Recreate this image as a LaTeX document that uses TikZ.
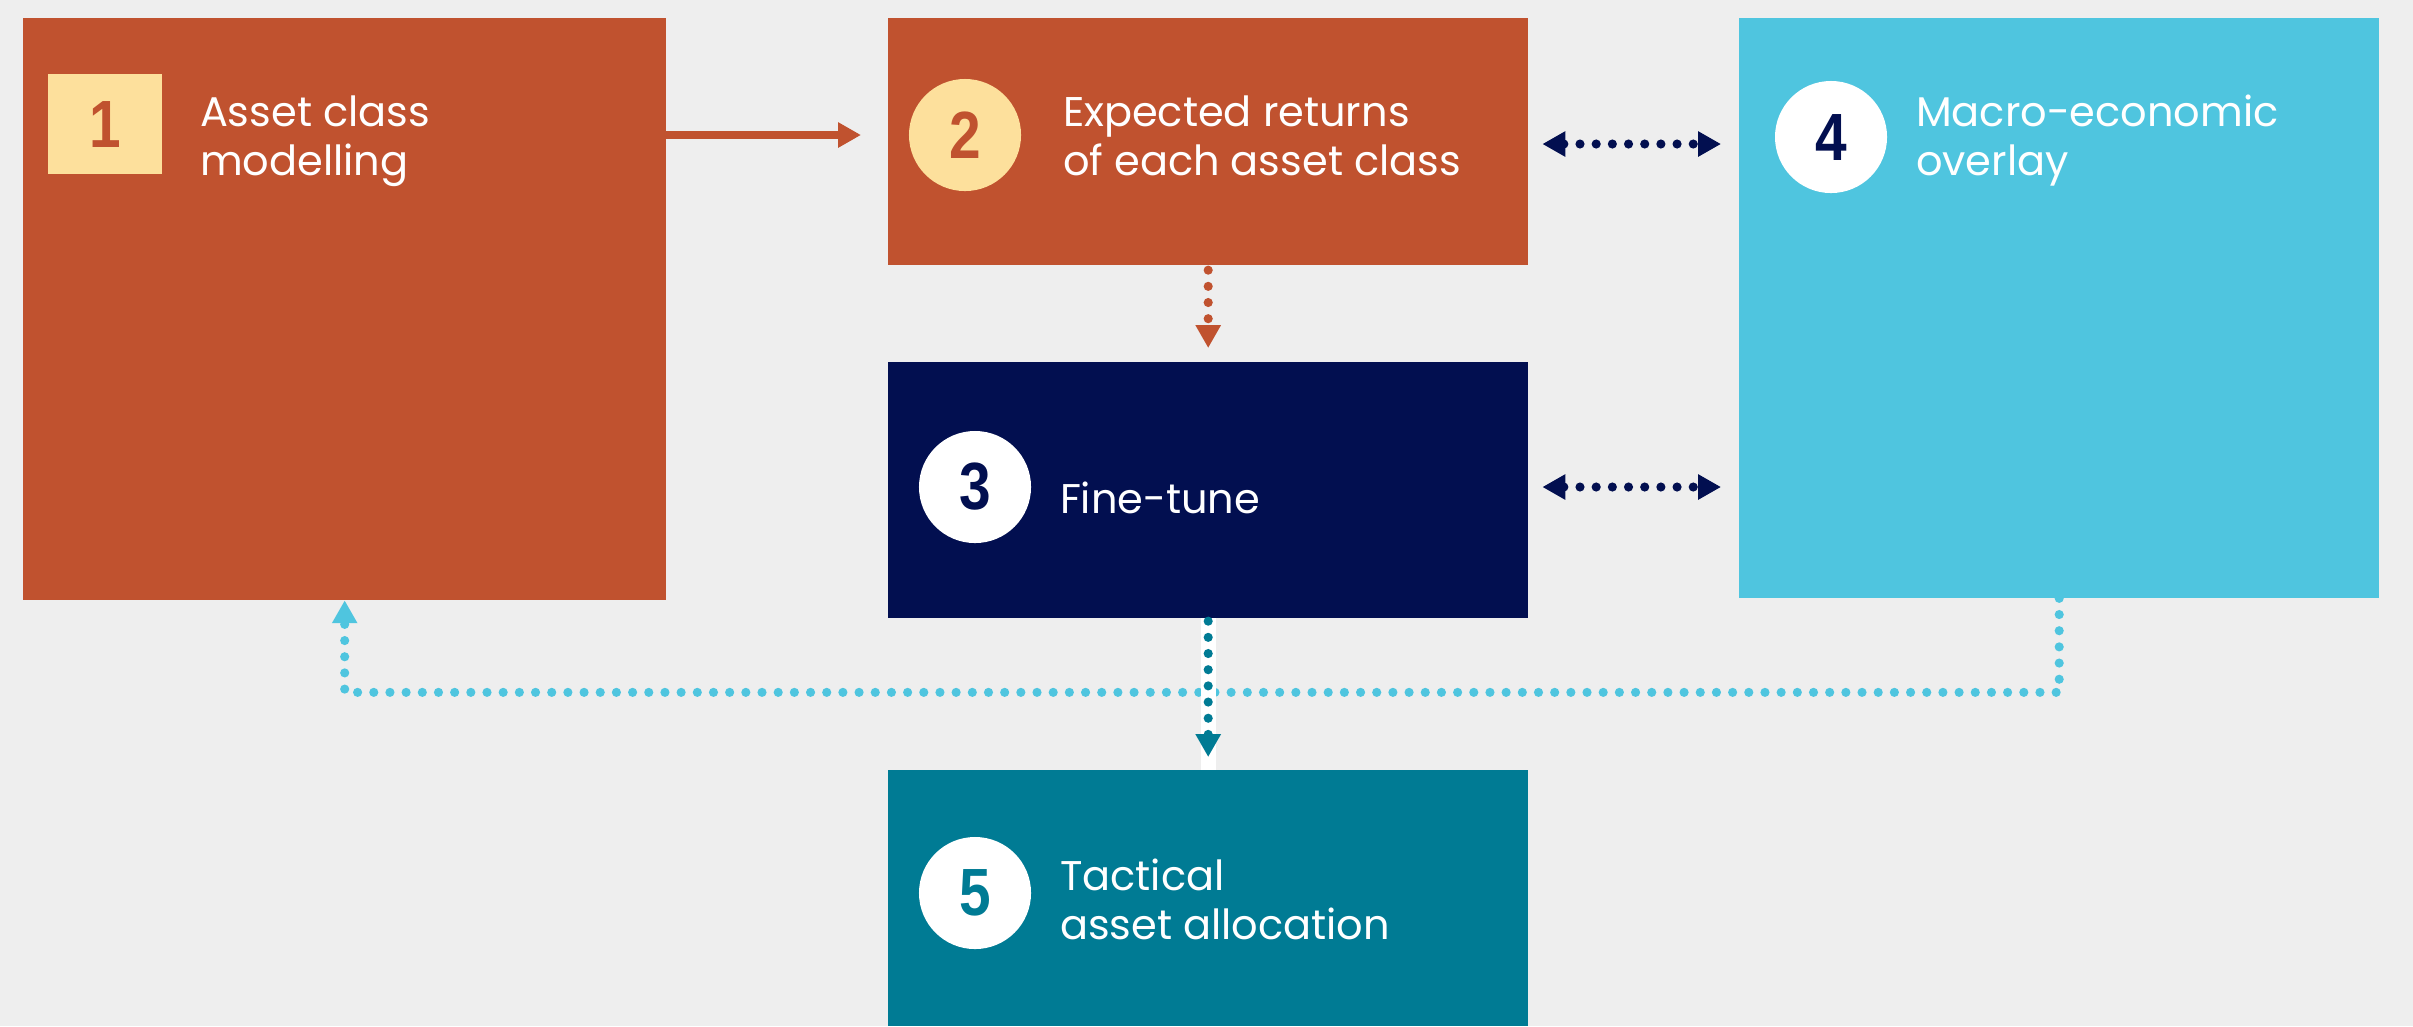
\documentclass[tikz,border=0pt]{standalone}
\usepackage{fontspec}
\setmainfont{Poppins}
\newfontfamily\numfont[FakeStretch=0.85]{Liberation Sans}
\usetikzlibrary{calc,arrows.meta}

\definecolor{paper}{HTML}{EEEEEE}
\definecolor{rust}{HTML}{C0522F}
\definecolor{navy}{HTML}{020F50}
\definecolor{sky}{HTML}{4FC5DF}
\definecolor{teal}{HTML}{007B94}
\definecolor{badge}{HTML}{FDE09C}

\begin{document}
\begin{tikzpicture}[x=0.01cm, y=-0.01cm, inner sep=0pt, outer sep=0pt,
    every node/.style={font=\fontsize{11.8}{13.9}\selectfont},
    box/.style={anchor=north west, minimum width=6.4cm},
    label_txt/.style={anchor=north west, align=left, text=white},
    num_disc/.style={circle, fill=white, minimum size=1.12cm,
        font=\numfont\bfseries\fontsize{19}{19}\selectfont},
    dots/.style={line width=2.6pt, line cap=round, dash pattern=on 0pt off 4.6pt},
    arr_tip/.style={-{Triangle[length=6.5pt,width=6.8pt]}},
    arr_both/.style={{Triangle[length=6.5pt,width=6.8pt]}-{Triangle[length=6.5pt,width=6.8pt]}}]

    \useasboundingbox (0,0) rectangle (2413,1026);
    \fill[paper] (0,0) rectangle (2413,1026);

    % boxes
    \node[box, fill=rust, minimum width=6.43cm, minimum height=5.82cm] (acm) at (23,18) {};
    \node[box, fill=rust, minimum height=2.47cm] (exp_ret) at (888,18) {};
    \node[box, fill=navy, minimum height=2.56cm] (fine_tune) at (888,362) {};
    \node[box, fill=sky, minimum height=5.8cm] (macro) at (1739,18) {};
    \node[box, fill=teal, minimum height=2.56cm] (taa) at (888,770) {};

    % numbers
    \node[fill=badge, minimum width=1.14cm, minimum height=1cm, text=rust,
        font=\numfont\bfseries\fontsize{19}{19}\selectfont] (acm_num) at (105,124) {1};
    \node[num_disc, fill=badge, text=rust] (exp_ret_num) at (965,135) {2};
    \node[num_disc, text=navy] (fine_tune_num) at (975,487) {3};
    \node[num_disc, text=navy] (macro_num) at (1831,137) {4};
    \node[num_disc, text=teal] (taa_num) at (975,893) {5};

    % texts
    \node[label_txt] (acm_txt) at (200,92) {\strut Asset class\\modelling};
    \node[label_txt] (exp_ret_txt) at (1063,92) {\strut Expected returns\\of each asset class};
    \node[label_txt] (fine_tune_txt) at (1060,479) {\strut Fine-tune};
    \node[label_txt] (macro_txt) at (1916,92) {\strut Macro-economic\\overlay};
    \node[label_txt] (taa_txt) at (1060,856) {\strut Tactical\\asset allocation};

    % 1 -> 2
    \draw[rust, line width=2.2pt, arr_tip, shorten >=0.27cm]
        (acm.east |- exp_ret_num) -- (exp_ret.west |- exp_ret_num);
    % 2 <-> 4, 3 <-> 4
    \draw[navy, dots, arr_both, shorten <=0.14cm, shorten >=0.18cm]
        ($(exp_ret.east |- macro_num)+(0,7)$) -- ($(macro.west |- macro_num)+(0,7)$);
    \draw[navy, dots, arr_both, shorten <=0.14cm, shorten >=0.18cm]
        (fine_tune.east |- fine_tune_num) -- (macro.west |- fine_tune_num);
    % 2 -> 3
    \draw[rust, dots, arr_tip, shorten <=0.05cm, shorten >=0.14cm]
        (exp_ret.south) -- (fine_tune.north);
    % 4 -> 1
    \draw[sky, dots, arr_tip] (macro.south) -- ++(0,94) -| (acm.south);
    % 3 -> 5
    \draw[white, line width=0.15cm] (fine_tune.south) -- (taa.north);
    \draw[teal, dots, arr_tip, shorten <=0.03cm, shorten >=0.13cm]
        (fine_tune.south) -- (taa.north);

\end{tikzpicture}
\end{document}
